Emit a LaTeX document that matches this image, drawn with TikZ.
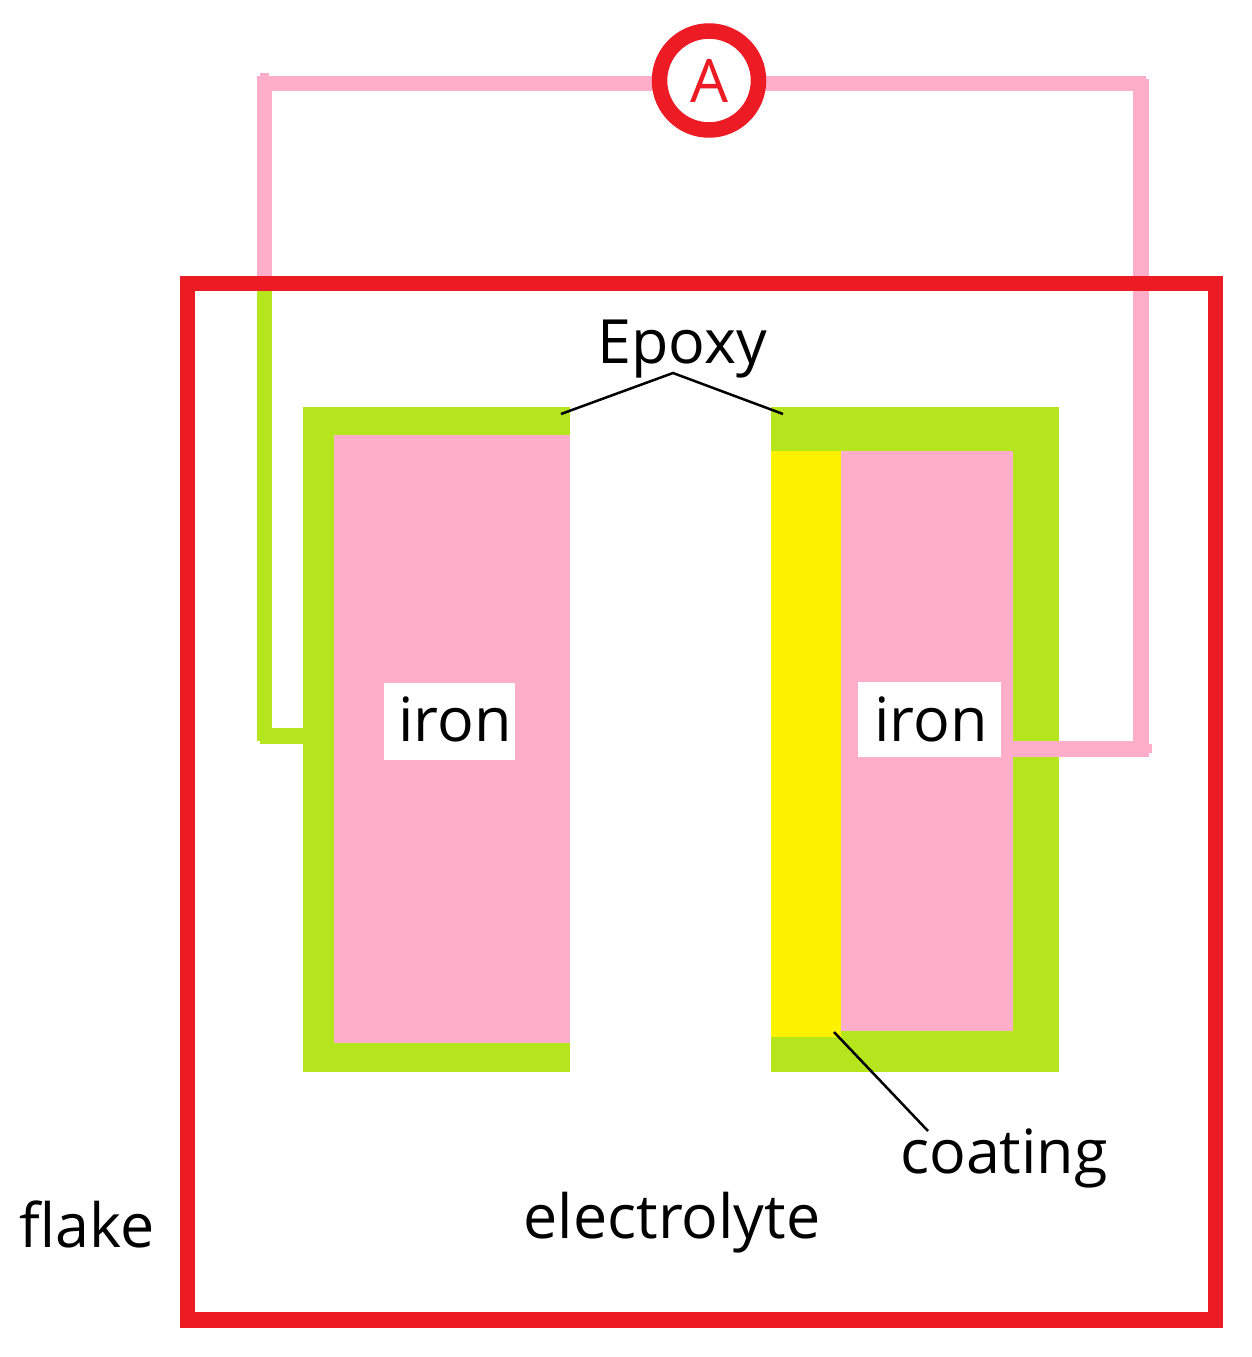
\documentclass[tikz,border=0pt]{standalone}
\usepackage{fontspec}
\setmainfont{Open Sans}
\definecolor{redc}{HTML}{ED1C24}
\definecolor{pinkc}{HTML}{FFAEC9}
\definecolor{limec}{HTML}{B5E61D}
\definecolor{yellowc}{HTML}{FFF200}
\tikzset{x=1pt,y=-1pt,
 wire/.style={line width=15.5pt,line cap=butt},
 lbl/.style={font=\fontsize{61}{61}\selectfont,text=black,inner sep=0pt,anchor=base},
 ironlbl/.style={fill=white,inner sep=0pt,anchor=center},
 leader/.style={black,line width=2.5pt}}
\begin{document}
\begin{tikzpicture}
\useasboundingbox (0,0) rectangle (1251,1357);
\coordinate (ptl) at (264.5,83.5);
\coordinate (ptlb) at (264.5,76);
\coordinate (ptre) at (1146,83.5);
\coordinate (ptr) at (1141,79);
\coordinate (pbr) at (1141,749);
\coordinate (pir) at (1005,749);
\coordinate (pie) at (1149,749);
\coordinate (lbl) at (264.5,741);
\coordinate (lfl) at (264.5,285);
\coordinate (lst) at (260,736);
\coordinate (lir) at (310,736);
% epoxy
\fill[limec] (303,407) rectangle (570,1072);
\fill[limec] (771,407) rectangle (1059,1072);
\fill[pinkc] (334,435) rectangle (570,1043);
\fill[pinkc] (841,451) rectangle (1013,1031);
\fill[yellowc] (771,451) rectangle (841,1037);
% wires
\fill[pinkc] (260,72.5) rectangle (269,77);
\draw[pinkc,wire] (lfl) -- (ptlb);
\draw[pinkc,wire] (ptl) -- (ptre);
\draw[pinkc,wire] (ptr) -- (pbr);
\fill[pinkc] (1148,744) rectangle (1152,753);
\draw[pinkc,wire] (pir) -- (pie);
\draw[limec,wire] (lfl) -- (lbl);
\draw[limec,wire] (lst) -- (lir);
% flake
\draw[redc,line width=15.5pt,line join=miter] (187.3,283.5) rectangle (1215.3,1320);
\node[draw=redc,line width=15.5pt,fill=white,circle,minimum size=99pt,inner sep=0pt,text=redc,font=\fontsize{60}{60}\selectfont] (amm) at (709,80.5) {A};
\node[ironlbl,minimum width=131pt,minimum height=77pt] (iron1) at (449,721) {};
\node[lbl] (iron1t) at (455,741) {iron};
\node[ironlbl,minimum width=143pt,minimum height=75pt] (iron2) at (929,719) {};
\node[lbl] (iron2t) at (931,741) {iron};
\node[lbl] (epoxy) at (682,363) {Epoxy};
\node[lbl] (coating) at (1004,1173) {coating};
\node[lbl] (electrolyte) at (672,1238) {electrolyte};
\node[lbl] (flake) at (87,1247) {flake};
\coordinate (ep) at (673,373);
\coordinate (el) at (561,414);
\coordinate (er) at (783,414);
\coordinate (cc) at (834,1032);
\coordinate (ce) at (928,1131);
\draw[leader] (el) -- (ep) -- (er);
\draw[leader] (cc) -- (ce);
\end{tikzpicture}
\end{document}
